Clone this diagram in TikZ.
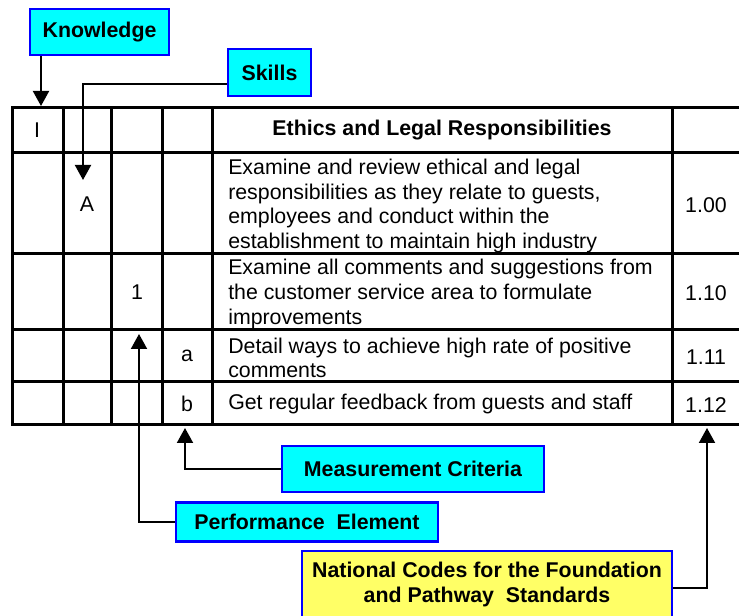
\documentclass[tikz,border=0pt]{standalone}
\usepackage{fontspec}
\setmainfont{Liberation Sans}
\usetikzlibrary{arrows.meta}
\definecolor{boxcyan}{RGB}{0,255,255}
\definecolor{boxblue}{RGB}{0,0,255}
\definecolor{boxyellow}{RGB}{255,255,102}
\tikzset{
  grid/.style={line width=2.25pt, line cap=rect},
  arr/.style={line width=1.5pt, -{Triangle[length=11.25pt,width=12pt]}},
  lab/.style={draw=boxblue, line width=1.6pt, fill=boxcyan, inner sep=0pt, font=\fontsize{16}{18.4}\selectfont\bfseries},
  natbox/.style={draw=boxblue, line width=1.6pt, fill=boxyellow, inner sep=0pt},
  cell/.style={inner sep=0pt},
  desc/.style={inner sep=0pt, anchor=west, align=left},
}
\begin{document}
\begin{tikzpicture}[x=0.75pt, y=-0.75pt, every node/.style={font=\fontsize{16}{18.4}\selectfont}]
\useasboundingbox (0,0) rectangle (739,616);
\clip (0,0) rectangle (739,616);
% table grid
\foreach \yy in {108,153,254,330,382,425} \draw[grid] (12,\yy) -- (760,\yy);
\foreach \xx in {12,63,111,162,212,672} \draw[grid] (\xx,108) -- (\xx,425);
% cell contents
\node[cell] (cI) at (37,130) {I};
\node[cell, font=\fontsize{16}{18.4}\selectfont\bfseries] (head) at (442,130) {Ethics and Legal Responsibilities};
\node[cell] (cA) at (87,204) {A};
\node[desc] (dA) at (228,206) {Examine and review ethical and legal\\responsibilities as they relate to guests,\\employees and conduct within the\\establishment to maintain high industry};
\node[cell] (nA) at (706,205) {1.00};
\node[cell] (c1) at (137,292) {1};
\node[desc] (d1) at (228,294) {Examine all comments and suggestions from\\the customer service area to formulate\\improvements};
\node[cell] (n1) at (706,293) {1.10};
\node[cell] (ca) at (187,356) {a};
\node[desc] (da) at (228,358) {Detail ways to achieve high rate of positive\\comments};
\node[cell] (na) at (706,357) {1.11};
\node[cell] (cb) at (187,404) {b};
\node[desc] (db) at (228,404) {Get regular feedback from guests and staff};
\node[cell] (nb) at (706,405) {1.12};
% labels
\node[lab, minimum width=104.25pt, minimum height=34.5pt] (know) at (99.5,32) {Knowledge};
\node[lab, minimum width=62.25pt, minimum height=35.25pt] (skill) at (269.5,72.5) {Skills};
\node[lab, minimum width=196.5pt, minimum height=34.5pt] (meas) at (413,469) {Measurement Criteria};
\node[lab, minimum width=196.5pt, minimum height=29.25pt] (perf) at (307,522) {Performance\ \ Element};
\node[natbox, minimum width=277.5pt, minimum height=55.5pt] (nat) at (487,588) {};
\node[cell, align=center, font=\fontsize{16}{18.4}\selectfont\bfseries] (natt) at (487,584.5) {National Codes for the Foundation\\and Pathway\ \ Standards};
% tips
\coordinate (kTip) at (41,106);
\coordinate (sTip) at (83,180);
\coordinate (pTip) at (139,334);
\coordinate (mTip) at (185,428);
\coordinate (nTip) at (707,428);
% connectors
\draw[arr] (kTip |- know.south) -- (kTip);
\draw[arr] (skill.west |- 0,84) -- (83,84) -- (sTip);
\draw[arr] (perf.west) -- (pTip |- perf.west) -- (pTip);
\draw[arr] (meas.west) -- (mTip |- meas.west) -- (mTip);
\draw[arr] (nat.east) -- (nTip |- nat.east) -- (nTip);
\end{tikzpicture}
\end{document}
